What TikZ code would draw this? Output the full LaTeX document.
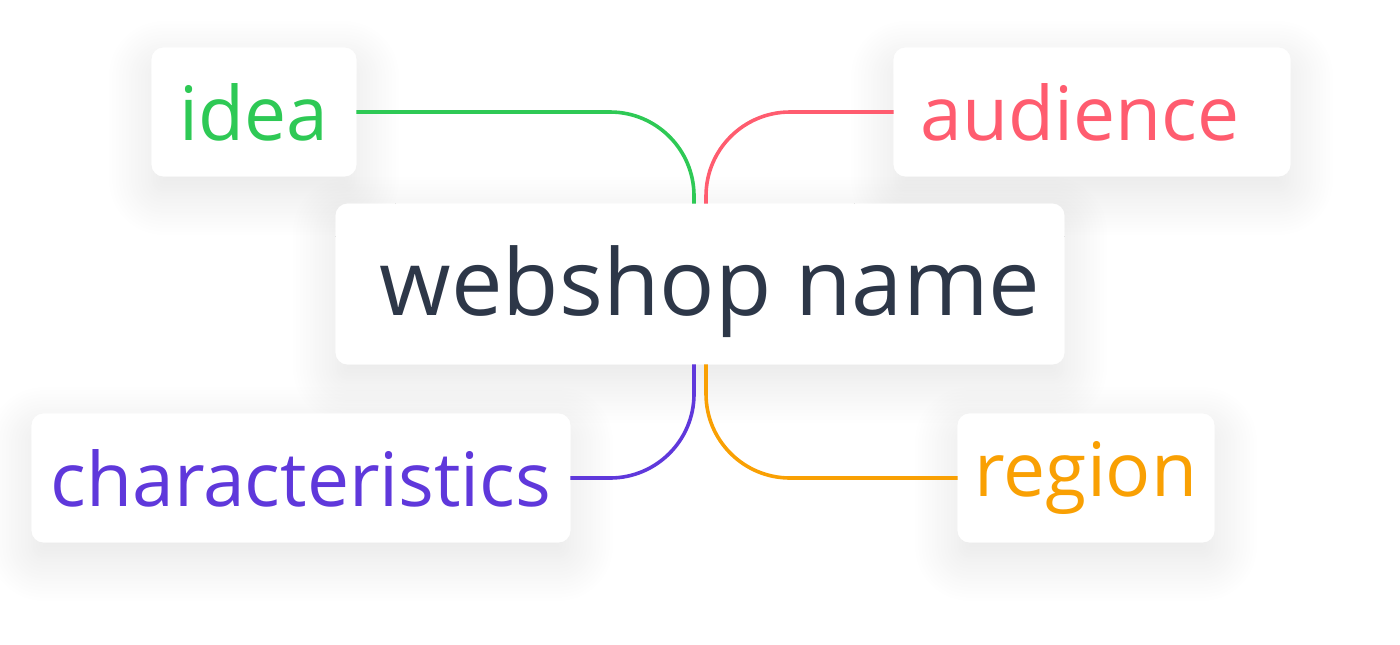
\documentclass[tikz,border=0pt]{standalone}
\usepackage{fontspec}
\setmainfont{Open Sans}
\usetikzlibrary{shadows.blur, backgrounds}
\definecolor{ideagreen}{HTML}{2EC955}
\definecolor{audred}{HTML}{FF5C6F}
\definecolor{charpurple}{HTML}{5F38DB}
\definecolor{regorange}{HTML}{F9A003}
\definecolor{namegray}{HTML}{2D3748}
\tikzset{
box/.style = {inner sep=0pt, minimum height=64pt, minimum width=#1,
              font=\fontsize{37.5}{44}\selectfont},
box/.default = 100pt, % width of the box
card/.style = {fill=white, rounded corners=6pt},
cardshadow/.style = {card, blur shadow={shadow xshift=0pt, shadow yshift=-8pt,
                     shadow blur radius=22pt, shadow blur steps=40, shadow opacity=11}},
branch/.style = {line width=1.8pt, rounded corners=42pt}
}

\begin{document}
\begin{tikzpicture}[x=0.5pt, y=-0.5pt]
	\def \gap{3pt} % half distance between two branches
	\useasboundingbox (0,0) rectangle (1400,644);

	% Boxes
	\node[box=364pt, minimum height=80pt, text=namegray,
	      font=\fontsize{46}{54}\selectfont] (name) at (700,284)
	      {\raisebox{-15.5pt}[0pt][0pt]{\hspace*{10pt}webshop name}};
	\node[box=102pt, text=ideagreen] (idea) at (254,112) {idea};
	\node[box=198pt, text=audred] (audience) at (1092,112) {audience\hspace*{12pt}};
	\node[box=269pt, text=charpurple] (characteristics) at (301,478) {characteristics};
	\node[box=128pt, text=regorange] (region) at (1086,478) {region};

	% Cards (all shadows first, then the white faces)
	\begin{scope}[on background layer]
	\foreach \b in {name, idea, audience, characteristics, region}
	    \fill[cardshadow] (\b.south west) rectangle (\b.north east);
	\foreach \b in {name, idea, audience, characteristics, region}
	    \fill[card] (\b.south west) rectangle (\b.north east);
	\end{scope}

	% Branches
	\draw[branch, ideagreen]  (idea.east) -| ([xshift=-\gap]name.north);
	\draw[branch, audred]     (audience.west) -| ([xshift=\gap]name.north);
	\draw[branch, charpurple] (characteristics.east) -| ([xshift=-\gap]name.south);
	\draw[branch, regorange]  (region.west) -| ([xshift=\gap]name.south);

\end{tikzpicture}
\end{document}
